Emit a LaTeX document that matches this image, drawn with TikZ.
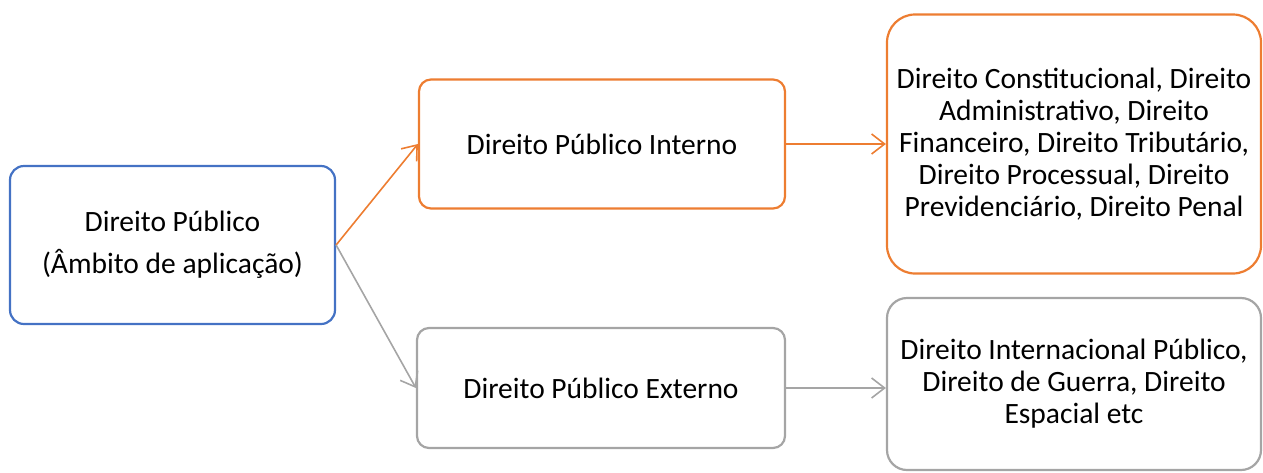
\documentclass[tikz,border=0pt]{standalone}
\usepackage{fontspec}
\setmainfont{Carlito}
\usetikzlibrary{arrows.meta}
\definecolor{cblue}{HTML}{4472C4}
\definecolor{corange}{HTML}{ED7D31}
\definecolor{cgray}{HTML}{A5A5A5}
\begin{document}
\begin{tikzpicture}[x=1pt,y=-1pt,
  box/.style={draw=#1, line width=2.2pt, align=center, inner sep=0pt,
    font=\fontsize{29.5}{32}\selectfont, text=black},
  conn/.style={draw=#1, line width=1.6pt, -{Straight Barb[length=13pt,width=20pt,line width=1.6pt]}}]
\useasboundingbox (0,0) rectangle (1263,472);
\clip (0,0) rectangle (1263,472);
\node[box=cblue, rounded corners=14pt, minimum width=325pt, minimum height=158pt] (dp) at (172.5,245) {Direito Público\\[10pt](Âmbito de aplicação)};
\node[box=corange, rounded corners=12pt, minimum width=366pt, minimum height=129pt] (int) at (602,144) {Direito Público Interno};
\node[box=corange, rounded corners=28pt, minimum width=374pt, minimum height=259pt] (intl) at (1074,144) {Direito Constitucional, Direito\\Administrativo, Direito\\Financeiro, Direito Tributário,\\Direito Processual, Direito\\Previdenciário, Direito Penal};
\node[box=cgray, rounded corners=12pt, minimum width=368pt, minimum height=120pt] (ext) at (601,388) {Direito Público Externo};
\node[box=cgray, rounded corners=20pt, minimum width=374pt, minimum height=172pt] (extl) at (1074,384) {Direito Internacional Público,\\Direito de Guerra, Direito\\Espacial etc};
\draw[conn=corange] (dp.east) -- (int.west);
\draw[conn=cgray] (dp.east) -- (ext.west);
\draw[conn=corange] (int.east) -- (intl.west);
\draw[conn=cgray] (ext.east) -- (ext.east -| extl.west);
\end{tikzpicture}
\end{document}
